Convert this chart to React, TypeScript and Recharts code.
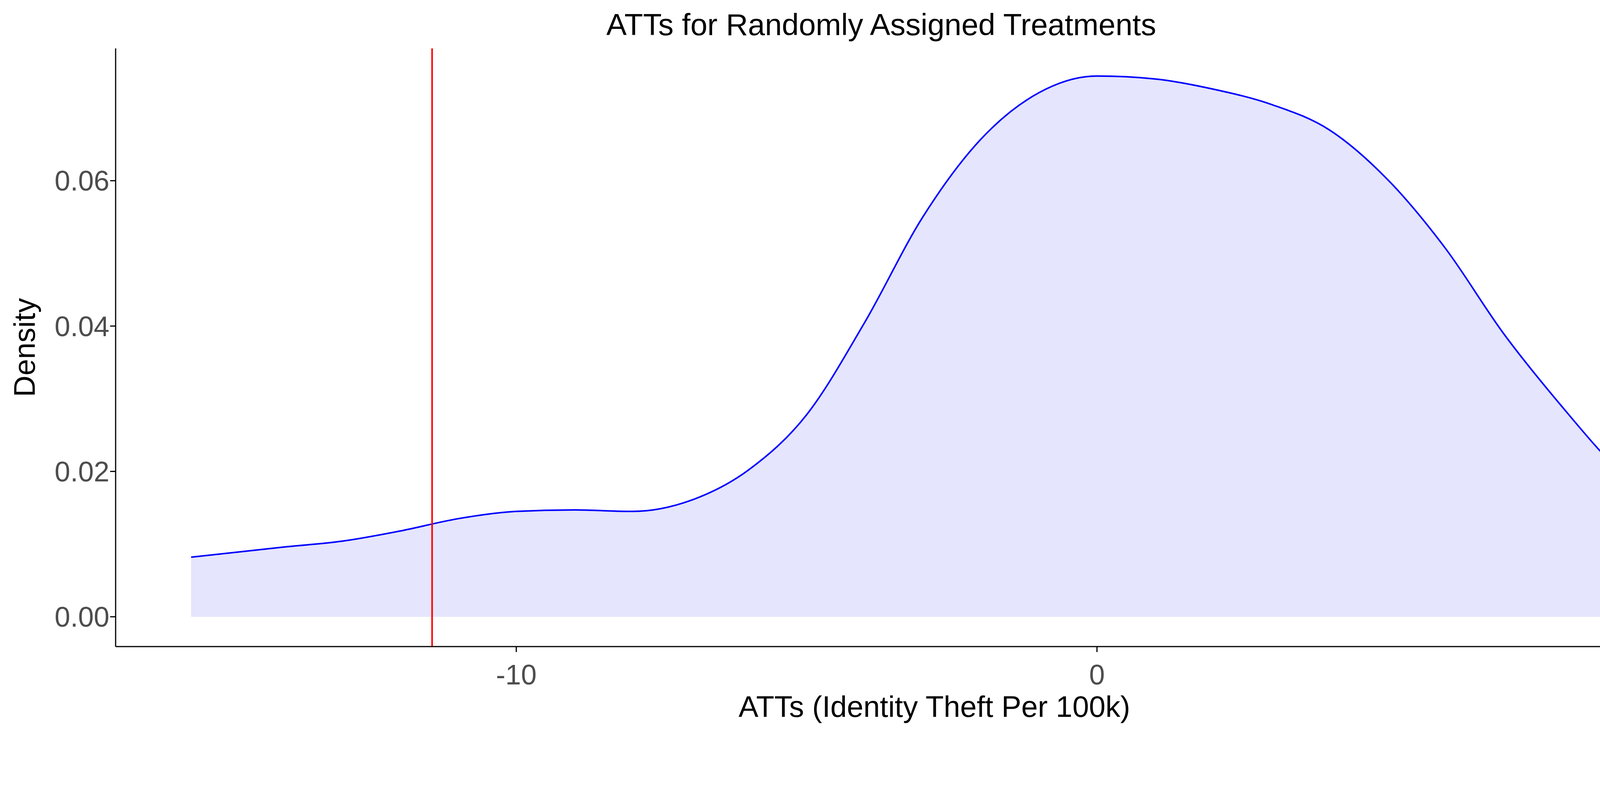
import React from "react";
import {
  ComposedChart,
  Area,
  XAxis,
  YAxis,
  ReferenceLine,
  Label,
} from "recharts";

const xs = [-15.6, -14, -13, -12, -11, -10, -9, -8, -7, -6, -5, -4, -3, -2, -1, 0, 1, 2, 3, 4, 5, 6, 7, 8, 9, 10];
const density = [
  0.0082, 0.0096, 0.0104, 0.0118, 0.0135, 0.0145, 0.0147, 0.0145, 0.016, 0.0202,
  0.0278, 0.0405, 0.055, 0.0657, 0.0721, 0.0744, 0.074, 0.0726, 0.0705, 0.067,
  0.0602, 0.0507, 0.039, 0.029, 0.02, 0.0133,
];
const observedAtt = -11.45;
const xTicks = [-10, 0, 10];
const yTicks = [0, 0.02, 0.04, 0.06];

const data = xs.map((x, i) => ({ x, y: density[i] }));

export default function App() {
  return (
    <div
      style={{
        position: "absolute",
        left: 0,
        top: 0,
        width: 4512,
        height: 2072,
        overflow: "hidden",
        background: "#fff",
        fontFamily: "Arial, 'Liberation Sans', sans-serif",
      }}
    >
      <div
        style={{
          position: "absolute",
          top: 18,
          width: 4512,
          textAlign: "center",
          fontSize: 78,
          color: "#000",
        }}
      >
        ATTs for Randomly Assigned Treatments
      </div>
      <ComposedChart
        width={4512}
        height={2072}
        data={data}
        margin={{ top: 124, right: 24, bottom: 208, left: 0 }}
      >
        <XAxis
          type="number"
          dataKey="x"
          domain={[-16.9, 11.3]}
          ticks={xTicks}
          allowDataOverflow
          stroke="#000"
          strokeWidth={3}
          tickSize={14}
          tick={{ fontSize: 72, fill: "#4d4d4d", dy: 30 }}
          height={208}
        >
          <Label value="ATTs (Identity Theft Per 100k)" position="insideBottom" offset={28} style={{ fontSize: 76, fill: "#000" }} />
        </XAxis>
        <YAxis
          type="number"
          domain={[-0.0041, 0.0782]}
          ticks={yTicks}
          allowDataOverflow
          tickFormatter={(v: number) => v.toFixed(2)}
          stroke="#000"
          strokeWidth={3}
          tickSize={14}
          tick={{ fontSize: 72, fill: "#4d4d4d" }}
          width={296}
        >
          <Label value="Density" angle={-90} position="insideLeft" offset={62} style={{ fontSize: 76, fill: "#000", textAnchor: "middle" }} />
        </YAxis>
        <Area
          type="monotone"
          dataKey="y"
          baseValue={0}
          stroke="#0000ff"
          strokeWidth={4}
          fill="#e5e5fd"
          fillOpacity={1}
          isAnimationActive={false}
        />
        <ReferenceLine x={observedAtt} stroke="#ff0000" strokeWidth={4} />
      </ComposedChart>
    </div>
  );
}
